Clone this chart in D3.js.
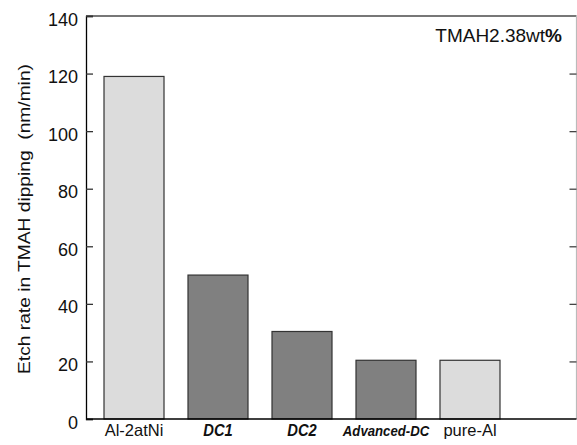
<!DOCTYPE html>
<html>
<head>
<meta charset="utf-8">
<script src="https://cdn.jsdelivr.net/npm/d3@7"></script>
<style>
  body { margin: 0; background: #fff; }
  svg { display: block; font-family: "Liberation Sans", Arial, sans-serif; }
</style>
</head>
<body>
<div id="chart"></div>
<script>
// Data
const categories = ["Al-2atNi", "DC1", "DC2", "Advanced-DC", "pure-Al"];
const etchRates = [119, 50, 30.4, 20.4, 20.4];
const barTones = ["light", "dark", "dark", "dark", "light"];
const yTicks = [0, 20, 40, 60, 80, 100, 120, 140];

const W = 577, H = 445;
const plot = {left: 86, right: 576.5, top: 16, bottom: 419};

const svg = d3.select("#chart").append("svg")
    .attr("width", W)
    .attr("height", H);

// Scales
const x = d3.scaleBand()
    .domain(categories)
    .range([92, 512])
    .paddingInner(0.2857)
    .paddingOuter(0.1429);

const y = d3.scaleLinear()
    .domain([0, 140])
    .range([plot.bottom, plot.top]);

// Bars
svg.append("g")
   .selectAll("rect")
   .data(categories)
   .enter()
   .append("rect")
   .attr("x", d => x(d))
   .attr("y", (d, i) => y(etchRates[i]))
   .attr("width", x.bandwidth())
   .attr("height", (d, i) => y(0) - y(etchRates[i]))
   .attr("fill", (d, i) => barTones[i] === "light" ? "#dcdcdc" : "#808080")
   .attr("stroke", "#333")
   .attr("stroke-width", 1.2);

// Frame: top (grey) and right (light grey)
svg.append("line")
   .attr("x1", plot.left).attr("x2", plot.right)
   .attr("y1", plot.top).attr("y2", plot.top)
   .attr("stroke", "#777").attr("stroke-width", 2);
svg.append("line")
   .attr("x1", plot.right).attr("x2", plot.right)
   .attr("y1", plot.top).attr("y2", plot.bottom)
   .attr("stroke", "#bbb").attr("stroke-width", 1.2);

// Left axis, ticks pointing inward
const yAxis = svg.append("g")
   .attr("transform", `translate(${plot.left},0)`)
   .call(d3.axisRight(y).tickValues(yTicks).tickSize(7).tickFormat(""));
yAxis.select(".domain").attr("stroke", "#000").attr("stroke-width", 1.3);
yAxis.selectAll(".tick line").attr("stroke", "#333").attr("stroke-width", 1.3);

// Right axis, ticks pointing inward
const yAxisR = svg.append("g")
   .attr("transform", `translate(${plot.right},0)`)
   .call(d3.axisLeft(y).tickValues(yTicks.filter(v => v > 0 && v < 140)).tickSize(7).tickFormat(""));
yAxisR.select(".domain").remove();
yAxisR.selectAll(".tick line").attr("stroke", "#444").attr("stroke-width", 1.3);

// Bottom line
svg.append("line")
   .attr("x1", plot.left).attr("x2", plot.right)
   .attr("y1", plot.bottom).attr("y2", plot.bottom)
   .attr("stroke", "#000").attr("stroke-width", 1.3);

// Y tick labels
svg.append("g")
   .selectAll("text")
   .data(yTicks)
   .enter()
   .append("text")
   .attr("x", 78)
   .attr("y", d => y(d) + 9.5)
   .attr("text-anchor", "end")
   .style("font-size", "18px")
   .style("fill", "#111")
   .text(d => d);

// Category labels (the DC ones are bold italic and a bit narrow)
const labelStyle = {
  "Al-2atNi":    {size: 16.5, sx: 1.0,  bold: false},
  "DC1":         {size: 16,   sx: 0.92, bold: true},
  "DC2":         {size: 16,   sx: 0.92, bold: true},
  "Advanced-DC": {size: 15.5, sx: 0.85, bold: true},
  "pure-Al":     {size: 16.5, sx: 1.0,  bold: false}
};
svg.append("g")
   .selectAll("text")
   .data(categories)
   .enter()
   .append("text")
   .attr("transform", d => `translate(${x(d) + x.bandwidth() / 2},436) scale(${labelStyle[d].sx},1)`)
   .attr("text-anchor", "middle")
   .style("font-size", d => labelStyle[d].size + "px")
   .style("font-weight", d => labelStyle[d].bold ? "bold" : "normal")
   .style("font-style", d => labelStyle[d].bold ? "italic" : "normal")
   .style("fill", "#111")
   .text(d => d);

// Y axis title
svg.append("text")
   .attr("transform", `translate(29.5,219) rotate(-90) scale(1.2,1)`)
   .attr("text-anchor", "middle")
   .style("font-size", "16px")
   .style("fill", "#111")
   .text("Etch rate in TMAH dipping\u00a0\u00a0(nm/min)");

// Annotation
const note = svg.append("text")
   .attr("x", 562)
   .attr("y", 42)
   .attr("text-anchor", "end")
   .style("font-size", "19px")
   .style("fill", "#111");
note.append("tspan").text("TMAH2.38wt");
note.append("tspan").style("font-weight", "bold").text("%");
</script>
</body>
</html>
